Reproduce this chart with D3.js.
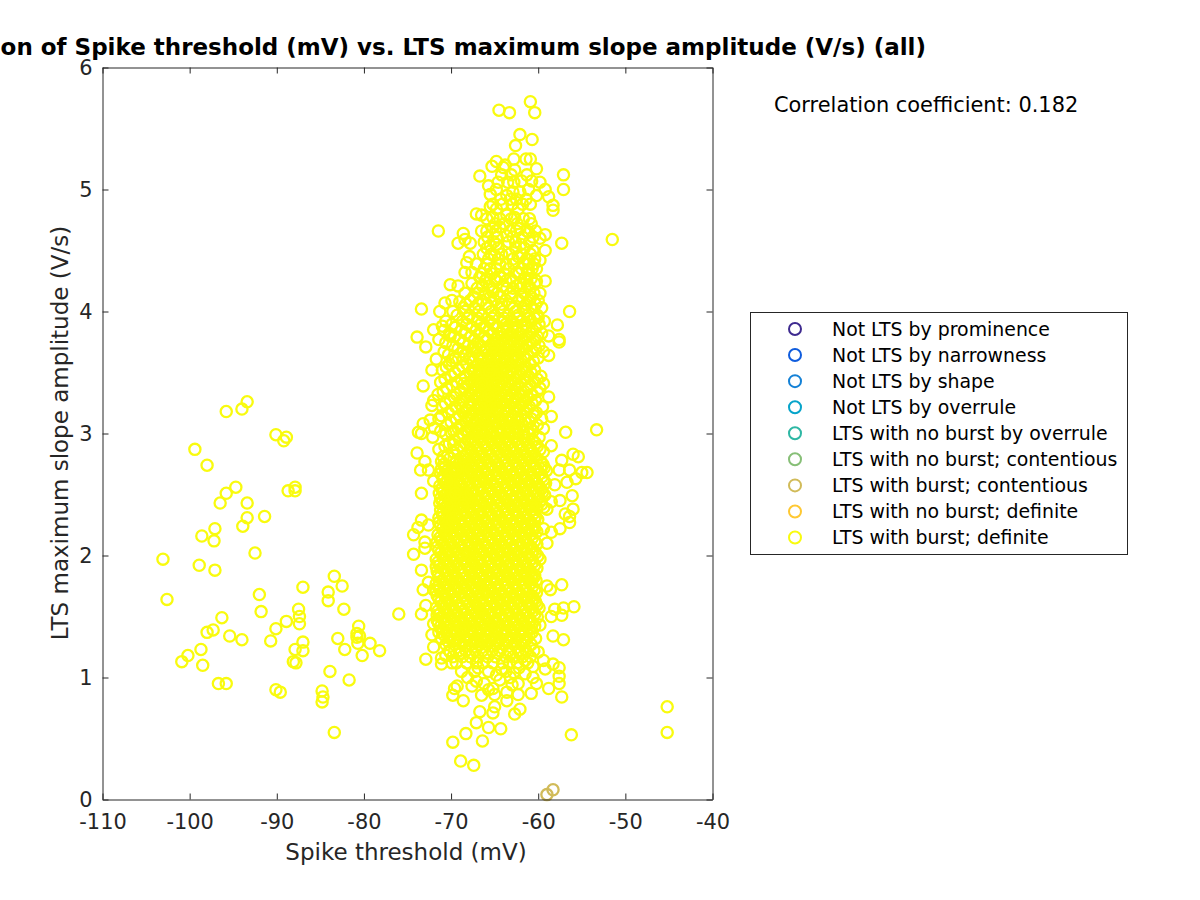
<!DOCTYPE html>
<html><head><meta charset="utf-8">
<script src="https://cdn.jsdelivr.net/npm/d3@7/dist/d3.min.js"></script>
<style>html,body{margin:0;background:#fff;overflow:hidden}text{font-family:"DejaVu Sans",sans-serif}</style>
</head><body><svg id="c" width="1200" height="900"></svg>
<script>
const titleText = "Correlation of Spike threshold (mV) vs. LTS maximum slope amplitude (V/s) (all)";
const xLabel = "Spike threshold (mV)";
const yLabel = "LTS maximum slope amplitude (V/s)";
const corrText = "Correlation coefficient: 0.182";
const xTicks = [-110,-100,-90,-80,-70,-60,-50,-40];
const yTicks = [0,1,2,3,4,5,6];
const legendNames = ["Not LTS by prominence","Not LTS by narrowness","Not LTS by shape","Not LTS by overrule","LTS with no burst by overrule","LTS with no burst; contentious","LTS with burst; contentious","LTS with no burst; definite","LTS with burst; definite"];
const legendColors = ["#3e2a8f","#0f5cdd","#1481d6","#06a4ca","#2eb7a4","#87bf77","#d1bb59","#fec832","#f9fb0e"];
const burstContentious = [[-59.0,0.04],[-58.3,0.08]];
// left and right outliers
const outliers = [[-103.06,1.97],[-102.6,1.64],[-99.4,2.87],[-98,2.74],[-95.8,3.18],[-94,3.2],[-93.4,3.26],[-90.1,2.99],[-88.9,2.97],[-89.2,2.94],[-98.6,2.16],[-97.1,2.22],[-97.2,2.12],[-96.5,2.43],[-95.8,2.51],[-94.7,2.56],[-93.4,2.43],[-93.4,2.31],[-93.9,2.24],[-91.4,2.32],[-92.5,2.02],[-87.9,2.56],[-87.9,2.53],[-88.7,2.53],[-98.9,1.92],[-97.1,1.88],[-92,1.68],[-91.8,1.54],[-87,1.74],[-83.4,1.83],[-82.5,1.75],[-84.1,1.7],[-84.1,1.63],[-82.3,1.56],[-87.5,1.56],[-87.4,1.5],[-87.4,1.44],[-88.9,1.46],[-90.1,1.4],[-90.7,1.3],[-96.3,1.49],[-98,1.37],[-97.3,1.39],[-95.4,1.34],[-94,1.31],[-87,1.29],[-87.9,1.23],[-87,1.22],[-88.1,1.13],[-87.8,1.12],[-98.7,1.23],[-100.2,1.18],[-100.9,1.13],[-98.5,1.1],[-96.7,0.95],[-95.8,0.95],[-90.1,0.9],[-89.6,0.88],[-84.8,0.89],[-84.7,0.84],[-84.8,0.8],[-83.4,0.55],[-83.9,1.05],[-81.7,0.98],[-83,1.32],[-82.2,1.23],[-80.6,1.42],[-80.8,1.36],[-80.8,1.33],[-80.5,1.34],[-80.7,1.28],[-80.2,1.18],[-79.3,1.28],[-78.2,1.22],[-76,1.52],[-51.5,4.59],[-53.3,3.03],[-45.2,0.76],[-45.2,0.55],[-56.2,0.53]];
// cluster edge and top points, read individually
const clusterEdge = [[-64.5,5.65],[-63.3,5.63],[-60.9,5.72],[-60.4,5.63],[-62.1,5.45],[-60.7,5.41],[-62.6,5.36],[-62.8,5.25],[-61.4,5.25],[-60.9,5.25],[-64.8,5.23],[-65.3,5.19],[-64,5.18],[-63.8,5.2],[-60.2,5.17],[-62.7,5.16],[-57.1,5.12],[-57.1,5],[-66.7,5.11],[-71.46,4.66],[-68.6,4.64],[-68.4,4.59],[-69.2,4.56],[-67.8,4.56],[-67.1,4.8],[-66.5,4.79],[-66.5,4.66],[-65.7,5.03],[-65.5,4.96],[-64.8,5],[-65.5,4.86],[-64.8,4.84],[-65.2,4.77],[-63.6,4.95],[-62.9,4.98],[-62.1,4.98],[-61.1,5],[-61.9,5.07],[-60.75,5.07],[-59.8,5.06],[-59.2,5],[-60.2,4.95],[-58.8,4.94],[-58.3,4.87],[-58.3,4.83],[-62.3,4.84],[-62.7,4.77],[-63.6,4.79],[-64.4,4.69],[-65.2,4.69],[-63.6,4.62],[-62.1,4.68],[-61.3,4.66],[-61.1,4.65],[-59.2,4.63],[-59.8,4.6],[-62,4.55],[-57.3,4.56],[-59.2,4.5],[-60.6,4.5],[-65.5,4.54],[-64.8,4.55],[-64.2,4.47],[-65,4.46],[-67.9,4.45],[-68.2,4.4],[-67.1,4.39],[-68.4,4.32],[-67.6,4.32],[-70.1,4.22],[-69.2,4.21],[-65.5,4.35],[-64.4,4.39],[-62.3,4.45],[-61.7,4.4],[-59.8,4.42],[-60.2,4.35],[-61.1,4.34],[-62.5,4.32],[-64.4,4.28],[-59.2,4.25],[-60.4,4.23],[-62.1,4.23],[-62.9,4.19],[-59.8,4.15],[-65.2,4.16],[-66.7,4.28],[-67.6,4.23],[-66.9,4.15],[-68.4,4.15],[-73.4,4.02],[-71.3,4],[-70.7,4.07],[-69.9,4.09],[-69,4.08],[-56.4,4],[-57.8,3.89],[-60,3.95],[-58.8,3.8],[-57.6,3.77],[-72,3.85],[-71,3.88],[-73.9,3.79],[-70.1,3.8],
[-72.9,3.71],[-71.7,3.61],[-72.2,3.52],[-73.2,3.39],[-72,3.27],[-72.2,3.23],[-72.4,3.11],[-73.75,3.01],[-73.2,3.08],[-73.4,3],[-73.9,2.84],[-73,2.77],[-73.5,2.7],[-72.6,2.7],[-72,2.61],[-73.4,2.51],[-71.3,2.43],[-73.4,2.29],[-73.8,2.23],[-74.3,2.17],[-72.6,2.25],[-73,2.11],[-74.3,2.01],[-73,2.06],[-58.8,3.64],[-57.6,3.75],[-59.4,3.41],[-58.8,3.3],[-58.5,3.14],[-59.4,3.04],[-56.85,3.01],[-58.5,2.9],[-59.4,2.85],[-57.3,2.78],[-56,2.83],[-55.4,2.81],[-56.4,2.7],[-57.6,2.7],[-54.4,2.68],[-55,2.68],[-55.7,2.63],[-56.7,2.6],[-58.1,2.58],[-56.1,2.49],[-57.5,2.45],[-58.5,2.44],[-59,2.38],[-56,2.38],[-56.9,2.34],[-56.4,2.32],[-56.4,2.27],[-57.5,2.22],[-58.5,2.19],[-59.4,2.22],[-59,2.1],[-60.4,2.29],
[-73.4,1.88],[-72.6,1.78],[-73.2,1.72],[-72,1.72],[-72.9,1.59],[-73.4,1.52],[-72,1.44],[-72.2,1.35],[-72,1.25],[-72.9,1.15],[-71.1,1.16],[-71.1,1.11],[-70.1,1.21],[-57.3,1.76],[-59,1.75],[-58.6,1.72],[-60.4,1.84],[-55.9,1.58],[-57.1,1.57],[-58.1,1.56],[-57.3,1.51],[-58.5,1.5],[-59.8,1.43],[-58.3,1.34],[-57.1,1.31],[-60,1.21],[-59.4,1.14],[-59.2,1.07],[-58.3,1.11],[-57.6,1.08],[-57.6,1.01],[-57.6,0.95],[-58.8,0.91],[-57.3,0.84],[-60.2,0.95],[-60.8,0.87],[-60.6,1],[-62.3,0.95],[-62.3,0.86],[-62.1,0.74],[-62.7,0.7],[-63.6,0.81],[-64.3,0.58],[-65.7,0.59],[-65,0.76],[-65.2,0.71],[-66.7,0.72],[-67.1,0.63],[-68.3,0.54],[-69.8,0.47],[-66.4,0.48],[-68.9,0.315],[-67.4,0.28],[-69.8,0.855],[-68.6,0.81],[-69.3,0.93],[-69.6,0.91],[-66.5,0.855],[-67.6,0.93],[-67.1,0.97],[-68.8,1.05],[-65.7,0.9],[-65.2,0.91],[-63.6,0.88],[-65.7,1.05],[-67.3,1.05],[-64.4,0.98],[-63,0.94],[-63.2,1],[-61.5,1.03],[-60.6,1.09],[-61.5,1.14],
[-66.2,0.95],[-64.8,1.02],[-66.9,1.08],[-64.2,1.07],[-63.7,1.05],[-62.2,1.08],[-69.9,1.12],[-70.6,1.18],[-68.1,1],[-65,0.86],[-62.8,1.04]];
// dense core: estimated rows of slope value with spike thresholds
const coreRows = [
[1.12,[-69.4,-68.2,-67.1,-66.3,-65.2,-64.1,-63.3,-62.4,-61.2]],
[1.17,[-69.8,-68.7,-67.8,-66.9,-65.8,-64.9,-63.7,-62.9,-61.8,-60.9]],
[1.22,[-70.2,-69.1,-68.3,-67.2,-66.4,-65.3,-64.4,-63.4,-62.3,-61.4,-60.5]],
[1.27,[-70.6,-69.6,-68.7,-67.7,-66.7,-65.9,-64.8,-63.9,-62.8,-61.9,-60.8]],
[1.32,[-71.1,-70.1,-69.2,-68.1,-67.2,-66.2,-65.3,-64.3,-63.2,-62.4,-61.3,-60.3]],
[1.37,[-71.4,-70.5,-69.6,-68.6,-67.6,-66.7,-65.7,-64.8,-63.8,-62.8,-61.8,-60.7]],
[1.42,[-71.2,-70.2,-69.1,-68.2,-67.3,-66.2,-65.3,-64.4,-63.4,-62.3,-61.4,-60.4]],
[1.47,[-71.6,-70.7,-69.7,-68.7,-67.8,-66.8,-65.8,-64.9,-63.9,-62.9,-61.9,-60.9]],
[1.52,[-71.3,-70.3,-69.3,-68.3,-67.2,-66.3,-65.4,-64.3,-63.3,-62.4,-61.4,-60.4]],
[1.57,[-71.7,-70.8,-69.8,-68.8,-67.7,-66.9,-65.9,-64.8,-63.8,-62.8,-61.8,-60.8,-59.9]],
[1.62,[-71.2,-70.3,-69.3,-68.2,-67.3,-66.4,-65.3,-64.4,-63.3,-62.3,-61.3,-60.3]],
[1.67,[-71.6,-70.7,-69.8,-68.7,-67.8,-66.8,-65.8,-64.9,-63.9,-62.9,-61.9,-60.7]],
[1.72,[-71.3,-70.2,-69.2,-68.3,-67.2,-66.3,-65.4,-64.4,-63.4,-62.4,-61.4,-60.4]],
[1.77,[-71.7,-70.8,-69.7,-68.8,-67.8,-66.8,-65.9,-64.9,-63.8,-62.8,-61.8,-60.9]],
[1.82,[-71.3,-70.3,-69.4,-68.3,-67.4,-66.3,-65.3,-64.3,-63.3,-62.4,-61.3,-60.5]],
[1.87,[-71.6,-70.7,-69.8,-68.8,-67.8,-66.9,-65.9,-64.8,-63.9,-62.9,-61.9,-60.9]],
[1.92,[-71.3,-70.2,-69.3,-68.2,-67.3,-66.4,-65.4,-64.3,-63.4,-62.3,-61.4,-60.4]],
[1.97,[-71.7,-70.8,-69.7,-68.7,-67.7,-66.8,-65.8,-64.9,-63.8,-62.8,-61.8,-60.8,-59.8]],
[2.02,[-71.2,-70.3,-69.2,-68.3,-67.4,-66.3,-65.3,-64.4,-63.3,-62.4,-61.3,-60.3]],
[2.07,[-71.6,-70.7,-69.8,-68.8,-67.8,-66.9,-65.9,-64.8,-63.9,-62.9,-61.9,-60.8]],
[2.12,[-71.1,-70.2,-69.3,-68.2,-67.3,-66.4,-65.3,-64.4,-63.4,-62.3,-61.4,-60.4]],
[2.17,[-71.5,-70.7,-69.7,-68.7,-67.8,-66.8,-65.8,-64.9,-63.8,-62.8,-61.8,-60.9]],
[2.22,[-71,-70.2,-69.2,-68.3,-67.3,-66.3,-65.4,-64.3,-63.3,-62.4,-61.3,-60.4]],
[2.27,[-71.4,-70.6,-69.8,-68.8,-67.8,-66.9,-65.9,-64.8,-63.9,-62.9,-61.9,-60.8]],
[2.32,[-70.9,-70.1,-69.3,-68.2,-67.3,-66.4,-65.3,-64.4,-63.4,-62.3,-61.4,-60.3]],
[2.37,[-71.2,-70.4,-69.7,-68.7,-67.8,-66.8,-65.8,-64.9,-63.8,-62.8,-61.8,-60.8]],
[2.42,[-70.8,-69.9,-69.1,-68.2,-67.3,-66.3,-65.4,-64.3,-63.3,-62.4,-61.3,-60.4,-59.6]],
[2.47,[-71.2,-70.4,-69.5,-68.7,-67.8,-66.9,-65.9,-64.8,-63.9,-62.9,-61.9,-60.9,-60]],
[2.52,[-70.9,-70,-69.1,-68.3,-67.4,-66.4,-65.3,-64.4,-63.4,-62.3,-61.4,-60.4,-59.5]],
[2.57,[-71.3,-70.4,-69.6,-68.8,-67.8,-66.8,-65.8,-64.9,-63.8,-62.8,-61.8,-60.9,-59.9]],
[2.62,[-70.9,-70,-69.2,-68.2,-67.3,-66.3,-65.4,-64.3,-63.3,-62.4,-61.3,-60.4,-59.4]],
[2.67,[-71.2,-70.4,-69.6,-68.7,-67.8,-66.9,-65.9,-64.8,-63.9,-62.9,-61.9,-60.8,-59.8]],
[2.72,[-70.7,-69.8,-68.9,-68.2,-67.3,-66.4,-65.3,-64.4,-63.4,-62.3,-61.4,-60.3,-59.3]],
[2.77,[-71.1,-69.4,-68.6,-67.8,-66.8,-65.8,-64.9,-63.8,-62.8,-61.8,-60.8,-59.7]],
[2.82,[-70.4,-68.2,-67.4,-66.4,-65.4,-64.3,-63.3,-62.4,-61.3,-60.4]],
[2.87,[-71.4,-69.3,-67.8,-66.9,-65.9,-64.8,-63.9,-62.9,-61.9,-60.9,-59.8]],
[2.92,[-70.2,-68.4,-67.3,-66.3,-65.3,-64.4,-63.4,-62.3,-61.3,-60.3]],
[2.97,[-72.1,-69.1,-67.7,-66.8,-65.8,-64.8,-63.8,-62.8,-61.7,-59.9]],
[3.02,[-71.2,-69.7,-68.3,-67.2,-66.4,-65.3,-64.3,-63.3,-62.4,-60.6]],
[3.07,[-70.5,-68.9,-67.6,-66.7,-65.9,-64.9,-63.9,-62.9,-61.8,-60.1]],
[3.12,[-71.4,-69.4,-68.1,-67.1,-66.3,-65.4,-64.4,-63.4,-62.3,-60.8,-59.6]],
[3.17,[-70.3,-68.6,-67.6,-66.6,-65.7,-64.8,-63.8,-62.8,-61.6,-60.2]],
[3.22,[-71,-69.5,-68,-66.9,-66.1,-65.2,-64.3,-63.3,-62.2,-61,-59.5]],
[3.27,[-70.1,-68.8,-67.5,-66.4,-65.6,-64.7,-63.7,-62.7,-61.5,-60.3]],
[3.32,[-71.5,-69.4,-67.9,-66.9,-66,-65.1,-64.2,-63.2,-62.1,-60.7]],
[3.37,[-70.5,-68.5,-67.3,-66.3,-65.5,-64.6,-63.6,-62.6,-61.2,-59.8]],
[3.42,[-71.2,-69.3,-67.7,-66.8,-65.9,-65,-64.1,-63.1,-62,-60.4]],
[3.47,[-70,-68.4,-67.1,-66.2,-65.4,-64.5,-63.5,-62.4,-61.1,-59.7]],
[3.52,[-71,-69.1,-67.6,-66.6,-65.8,-64.9,-64,-63,-61.8,-60.4]],
[3.57,[-70.2,-68.2,-66.9,-66,-65.2,-64.3,-63.3,-62.2,-60.9]],
[3.62,[-69.5,-67.9,-66.5,-65.7,-64.7,-63.8,-62.8,-61.5,-60]],
[3.67,[-70.8,-68.6,-67.2,-66,-65.1,-64.2,-63.1,-62,-60.6,-59.4]],
[3.72,[-69.8,-68,-66.6,-65.5,-64.6,-63.5,-62.4,-61.2,-59.9]],
[3.77,[-71.4,-69.1,-67.3,-65.9,-64.9,-63.9,-62.9,-61.7,-60.3]],
[3.82,[-70.2,-68.3,-66.8,-65.3,-64.3,-63.2,-62.1,-60.9,-59.6]],
[3.87,[-69.5,-67.6,-66.2,-64.8,-63.6,-62.5,-61.4,-60.3]],
[3.92,[-70.6,-68.7,-67,-65.6,-64.1,-63,-61.9,-60.8,-59.3]],
[3.97,[-69.3,-67.9,-66.4,-65,-63.4,-62.3,-61.2,-60.1]],
[4.03,[-68.6,-67.3,-65.7,-64.4,-62.8,-61.7,-60.7,-59.6]],
[4.09,[-67.8,-66.5,-65,-63.7,-62.2,-61,-60]],
[4.15,[-66.1,-64.7,-63.2,-61.6,-60.5]],
[4.21,[-66.4,-65.6,-64,-62.5,-61.2]],
[4.27,[-65.9,-65,-63.2,-61.6,-60.8]],
[4.35,[-66.2,-64.8,-63.4,-61.9,-60.7]],
[4.43,[-65.7,-64.6,-62.9,-61.3,-60.4]],
[4.52,[-65.9,-64.6,-62.6,-61.6]],
[4.61,[-65.8,-64.7,-62.9,-61.8,-60.6]],
[4.72,[-64.9,-63.9,-62.4,-60.8]],
[4.88,[-65.2,-64.1,-63,-61.8,-60.9]]
];
// second estimated pass over the solid part of the cluster
const coreFill = [
[1.2,[-68.9,-67.55,-66.05,-64.65,-63.15,-62.05]],
[1.295,[-70.35,-69.05,-68.45,-67.35,-66.45,-65.45,-64.55,-63.55,-62.55,-61.55]],
[1.345,[-70.75,-69.95,-68.95,-67.95,-66.95,-65.95,-65.05,-64.05,-63.05,-62.05,-61.05]],
[1.395,[-70.95,-69.85,-68.85,-67.85,-66.95,-65.95,-65,-64.1,-63.05,-62.05,-61.05]],
[1.445,[-71.45,-70.45,-69.45,-68.45,-67.55,-66.55,-65.55,-64.65,-63.65,-62.55,-61.65,-60.65]],
[1.495,[-71,-70,-69,-68,-67,-66.1,-65.1,-64.1,-63.1,-62.1,-61.1,-60.1]],
[1.545,[-71.5,-70.55,-69.55,-68.55,-67.45,-66.6,-65.65,-64.55,-63.55,-62.6,-61.6,-60.6]],
[1.595,[-70.95,-70.05,-69.05,-67.95,-67.05,-66.15,-65.05,-64.15,-63.05,-62.05,-61.05,-60.15]],
[1.645,[-71.4,-70.5,-69.55,-68.45,-67.55,-66.55,-65.55,-64.65,-63.65,-62.6,-61.6,-60.5]],
[1.695,[-71,-69.95,-69,-68,-67,-66.05,-65.15,-64.15,-63.15,-62.15,-61.15,-60.2]],
[1.745,[-71.5,-70.5,-69.45,-68.55,-67.5,-66.55,-65.65,-64.65,-63.6,-62.6,-61.6,-60.65]],
[1.795,[-71,-70.05,-69.15,-68.05,-67.15,-66.05,-65.05,-64.05,-63.05,-62.15,-61.05,-60.25]],
[1.845,[-71.45,-70.5,-69.6,-68.55,-67.6,-66.6,-65.6,-64.55,-63.6,-62.65,-61.6,-60.7]],
[1.895,[-71.05,-69.95,-69.05,-67.95,-67.05,-66.15,-65.15,-64.05,-63.15,-62.05,-61.15,-60.15]],
[1.945,[-71.5,-70.5,-69.5,-68.45,-67.5,-66.6,-65.6,-64.6,-63.55,-62.55,-61.55,-60.6]],
[1.995,[-70.95,-70.05,-68.95,-68.05,-67.15,-66.05,-65.05,-64.15,-63.05,-62.15,-61.05,-60.05]],
[2.045,[-71.4,-70.5,-69.55,-68.55,-67.55,-66.65,-65.65,-64.55,-63.65,-62.65,-61.65,-60.55]],
[2.095,[-70.85,-69.95,-69.05,-67.95,-67.05,-66.15,-65.05,-64.15,-63.15,-62.05,-61.15,-60.15]],
[2.145,[-71.3,-70.45,-69.45,-68.45,-67.55,-66.55,-65.55,-64.65,-63.55,-62.55,-61.55,-60.65]],
[2.195,[-70.75,-69.95,-68.95,-68.05,-67.05,-66.05,-65.15,-64.05,-63.05,-62.15,-61.05,-60.15]],
[2.245,[-71.2,-70.4,-69.55,-68.55,-67.55,-66.65,-65.65,-64.55,-63.65,-62.65,-61.65,-60.55]],
[2.295,[-70.65,-69.85,-69.05,-67.95,-67.05,-66.15,-65.05,-64.15,-63.15,-62.05,-61.15,-60.05]],
[2.345,[-71,-70.2,-69.45,-68.45,-67.55,-66.55,-65.55,-64.65,-63.55,-62.55,-61.55,-60.55]],
[2.395,[-70.55,-69.65,-68.85,-67.95,-67.05,-66.05,-65.15,-64.05,-63.05,-62.15,-61.05,-60.15,-59.35]],
[2.445,[-71,-70.15,-69.25,-68.45,-67.55,-66.65,-65.65,-64.55,-63.65,-62.65,-61.65,-60.65,-59.75]],
[2.495,[-70.65,-69.75,-68.85,-68.05,-67.15,-66.15,-65.05,-64.15,-63.15,-62.05,-61.15,-60.15,-59.25]],
[2.545,[-71.05,-70.15,-69.35,-68.55,-67.55,-66.55,-65.55,-64.65,-63.55,-62.55,-61.55,-60.65,-59.65]],
[2.595,[-70.65,-69.75,-68.95,-67.95,-67.05,-66.05,-65.15,-64.05,-63.05,-62.15,-61.05,-60.15,-59.15]],
[2.645,[-70.95,-70.15,-69.35,-68.45,-67.55,-66.65,-65.65,-64.55,-63.65,-62.65,-61.65,-60.55,-59.55]],
[2.695,[-70.45,-69.55,-68.65,-67.95,-67.05,-66.15,-65.05,-64.15,-63.15,-62.05,-61.15,-60.05,-59.05]],
[2.745,[-70.85,-69.15,-68.35,-67.55,-66.55,-65.55,-64.65,-63.55,-62.55,-61.55,-60.55,-59.45]],
[2.795,[-70.15,-68.95,-68,-67.15,-66.15,-65.15,-64.05,-63.05,-62.15,-61.05,-60.15]],
[2.845,[-69.65,-67.55,-66.65,-65.65,-64.55,-63.65,-62.65,-61.65,-60.65]],
[2.895,[-70.7,-68.9,-67.05,-66.05,-65.05,-64.15,-63.15,-62.05,-61.05,-60.1]],
[2.945,[-69.6,-68.1,-67.55,-66.55,-65.55,-64.6,-63.6,-62.55,-61.5,-60.6]],
[2.995,[-70.6,-68.7,-67.3,-66.3,-65.3,-64.3,-63.3,-62.3,-61.1]],
[3.045,[-71.9,-69.2,-67.85,-66.95,-65.65,-64.65,-63.55,-62.6,-60.9]],
[3.095,[-70,-68.35,-67.2,-66.2,-65.2,-64.2,-63.2,-62.2,-61]],
[3.145,[-71.1,-69.05,-67.8,-66.85,-65.95,-65,-64.05,-63.05,-61.95,-60.5]],
[3.195,[-69.9,-68.25,-67.2,-66.3,-65.45,-64.55,-63.5,-62.5,-61.3]],
[3.245,[-70.65,-69,-67.7,-66.65,-65.85,-64.9,-64,-63,-61.8,-60.7]],
[3.295,[-69.6,-68.3,-67.15,-66.15,-65.3,-64.4,-63.45,-62.4,-61.2]],
[3.345,[-70.9,-68.9,-67.6,-66.6,-65.75,-64.85,-63.85,-62.85,-61.6,-60.1]],
[3.395,[-69.9,-68.1,-67,-66.1,-65.2,-64.3,-63.3,-62.3,-60.9]],
[3.445,[-70.7,-68.8,-67.45,-66.5,-65.65,-64.75,-63.8,-62.75,-61.5,-60.1]],
[3.495,[-69.55,-67.8,-66.85,-65.95,-65.1,-64.2,-63.2,-62.1,-60.8]],
[3.545,[-70.55,-68.65,-67.3,-66.3,-65.55,-64.6,-63.65,-62.55,-61.4]],
[3.595,[-69.9,-67.5,-66.6,-65.75,-64.9,-64,-63,-61.9,-60.55]],
[3.645,[-70.3,-68.4,-66.85,-65.4,-64.45,-63.5,-62.4,-61.2]],
[3.695,[-69.2,-67.4,-65.95,-64.85,-63.85,-62.75,-61.6,-60.3]],
[3.745,[-70.6,-68.6,-66.95,-65.2,-64.25,-63.15,-62.05,-60.8]],
[3.795,[-69.6,-67.7,-66.2,-64.6,-63.5,-62.5,-61.3,-60.1]],
[3.845,[-70.8,-68.8,-67.1,-65.7,-64,-62.9,-61.8,-60.6]],
[3.895,[-69.9,-68.2,-66.6,-65.2,-63.7,-62.7,-61.6,-59.9]],
[3.945,[-68.1,-66.9,-65.3,-63.9,-62.4,-61,-60.4]],
[4.0,[-69.8,-68.4,-66.8,-65.4,-64,-62.6,-61.5]],
[4.06,[-68.3,-66.9,-65.9,-64.2,-63.3,-61.4,-60.3]],
[4.12,[-67.4,-65.5,-64.4,-63,-61.9,-60.8]],
[4.19,[-67,-65.3,-63.6,-62,-60.9]],
[4.25,[-66.1,-64.9,-63.7,-62.9,-61.3,-60.2]],
[4.31,[-66.5,-65.3,-63.9,-62.2,-61.2]],
[4.39,[-65.9,-63.7,-62.8,-61.1,-60.5]],
[4.47,[-66.3,-65.4,-63.3,-61.9,-60.9]],
[4.57,[-66.2,-65.1,-63.4,-62.6,-61]],
[4.66,[-65.9,-64.9,-63.2,-62.5,-60.3]],
[4.76,[-65.9,-64.4,-63.1,-61.7,-61]],
[4.92,[-64.3,-63.2,-62.5,-61.4]],
[5.06,[-64.6,-63.5,-62.8]],
[5.12,[-64.2,-63.1,-61.3]]
];
// third estimated pass to close the small gaps left in the solid mass
const coreGaps = [
[1.31,[-69.75,-67.75,-65.75,-63.7,-61.75]],
[1.41,[-70.6,-68.6,-66.7,-64.7,-62.7,-60.8]],
[1.51,[-71.6,-69.7,-67.6,-65.7,-63.7,-61.7]],
[1.61,[-70.7,-68.7,-66.75,-64.75,-62.75,-60.7]],
[1.71,[-71.7,-69.6,-67.6,-65.7,-63.75,-61.75]],
[1.81,[-70.7,-68.7,-66.7,-64.7,-62.7,-60.75]],
[1.91,[-71.7,-69.7,-67.7,-65.75,-63.7,-61.7]],
[2.01,[-70.6,-68.75,-66.7,-64.75,-62.75,-60.7]],
[2.11,[-71.6,-69.7,-67.7,-65.7,-63.75,-61.75]],
[2.21,[-70.6,-68.7,-66.75,-64.7,-62.7,-60.7]],
[2.31,[-71.4,-69.6,-67.7,-65.7,-63.7,-61.7]],
[2.41,[-70.45,-68.65,-66.7,-64.75,-62.75,-60.75]],
[2.51,[-71.35,-69.5,-67.75,-65.7,-63.7,-61.7,-59.95]],
[2.61,[-70.45,-68.7,-66.7,-64.7,-62.7,-60.7]],
[2.71,[-71.1,-69.4,-67.7,-65.75,-63.7,-61.75,-59.7]],
[2.81,[-70.9,-68.7,-66.85,-64.85,-62.85,-60.85]],
[2.91,[-69.7,-67.8,-65.8,-63.8,-61.8]],
[3.01,[-70,-68,-66.7,-64.75,-62.7,-61.7]],
[3.11,[-67.6,-65.7,-63.7,-61.5]],
[3.21,[-68.7,-66.6,-64.75,-62.65]],
[3.31,[-67.6,-65.7,-63.7,-61.7]],
[3.41,[-68.5,-66.5,-64.6,-62.7]],
[3.51,[-67.3,-65.6,-63.6,-61.4]],
[3.61,[-68.6,-66.3,-64.4,-62.4]],
[3.71,[-67.2,-65.3,-63.2,-61.9]]
];
const burstDefinite = outliers.concat(clusterEdge,
  [coreRows, coreFill, coreGaps].flatMap(rows => rows.flatMap(([slope, xs]) => xs.map(x => [x, slope]))));

const svg = d3.select("#c");
const x = d3.scaleLinear().domain([-110,-40]).range([102.5,712.5]);
const y = d3.scaleLinear().domain([0,6]).range([799.5,67.5]);
const ink = "#262626";

svg.append("rect").attr("x",102.5).attr("y",67.5).attr("width",610).attr("height",732).attr("fill","#fff");

const marks = svg.append("g").attr("fill","none").attr("stroke-width",2.3);
marks.selectAll(".b").data(burstDefinite).join("circle").attr("cx",d=>x(d[0])).attr("cy",d=>y(d[1])).attr("r",5.6).attr("stroke",legendColors[8]);
marks.selectAll(".c").data(burstContentious).join("circle").attr("cx",d=>x(d[0])).attr("cy",d=>y(d[1])).attr("r",5.6).attr("stroke",legendColors[6]);

function styleAxis(g, showText){
  g.selectAll("path,line").attr("stroke",ink).attr("stroke-width",1);
  g.selectAll("text").attr("fill",ink).style("font-size","20.9px").style("font-family",'"DejaVu Sans",sans-serif');
  if(!showText) g.selectAll("text").remove();
}
svg.append("g").attr("transform","translate(0,799.5)").call(d3.axisBottom(x).tickValues(xTicks).tickSizeInner(-6).tickSizeOuter(0).tickPadding(15).tickFormat(d=>String(d))).call(g=>styleAxis(g,true));
svg.append("g").attr("transform","translate(102.5,0)").call(d3.axisLeft(y).tickValues(yTicks).tickSizeInner(-6).tickSizeOuter(0).tickPadding(10).tickFormat(d=>String(d))).call(g=>styleAxis(g,true));
svg.append("g").attr("transform","translate(0,67.5)").call(d3.axisTop(x).tickValues(xTicks).tickSizeInner(-6).tickSizeOuter(0)).call(g=>styleAxis(g,false));
svg.append("g").attr("transform","translate(712.5,0)").call(d3.axisRight(y).tickValues(yTicks).tickSizeInner(-6).tickSizeOuter(0)).call(g=>styleAxis(g,false));

svg.append("text").attr("x",406).attr("y",860).attr("text-anchor","middle").attr("fill",ink).style("font-size","23px").text(xLabel);
svg.append("text").attr("transform","translate(68,433) rotate(-90)").attr("text-anchor","middle").attr("fill",ink).style("font-size","23px").text(yLabel);
svg.append("text").attr("x",926).attr("y",55).attr("text-anchor","end").attr("fill","#000").style("font-size","23px").style("font-weight","bold").text(titleText);
svg.append("text").attr("x",774).attr("y",111.5).attr("fill","#000").style("font-size","20.9px").text(corrText);

const lg = svg.append("g");
lg.append("rect").attr("x",750.5).attr("y",312.5).attr("width",377).attr("height",242).attr("fill","#fff").attr("stroke",ink).attr("stroke-width",1);
const rowY = d3.scalePoint().domain(legendNames).range([329,537.5]);
legendNames.forEach((n,i)=>{
  lg.append("circle").attr("cx",795).attr("cy",rowY(n)).attr("r",6).attr("fill","none").attr("stroke",legendColors[i]).attr("stroke-width",2);
  lg.append("text").attr("x",832).attr("y",rowY(n)+6.8).attr("fill","#000").style("font-size","18.9px").text(n);
});
</script></body></html>
